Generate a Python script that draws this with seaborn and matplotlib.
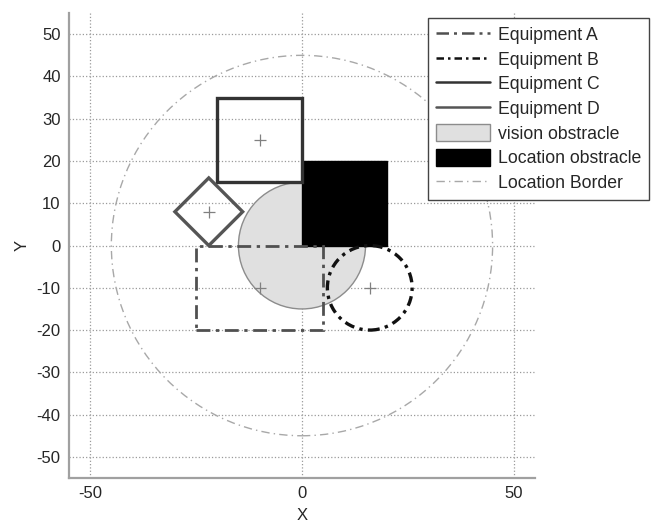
import numpy as np
import matplotlib
matplotlib.use("Agg")
import matplotlib.pyplot as plt
import matplotlib.patches as mpatches
from matplotlib.lines import Line2D
import pandas as pd
import seaborn as sns

# equipment: center, width/diameter, height, shape
equip_names = ['Equipment A', 'Equipment B', 'Equipment C', 'Equipment D']
equip_x = [-10, 16, -10, -22]
equip_y = [-10, -10, 25, 8]
equip_w = [30, 20, 20, 16]
equip_h = [20, 20, 20, 16]
equip_shape = ['rect', 'circle', 'rect', 'diamond']

# obstacles
vision_center = [0, 0]
vision_radius = 15
loc_obs_x = [0, 20]
loc_obs_y = [0, 20]
border_radius = 45

xticks = [-50, 0, 50]
yticks = [-50, -40, -30, -20, -10, 0, 10, 20, 30, 40, 50]

sns.set_style("white")
plt.rcParams['font.family'] = ['Liberation Sans', 'DejaVu Sans']
plt.rcParams['axes.unicode_minus'] = False

fig = plt.figure(figsize=(6.52, 5.23), dpi=100)
ax = fig.add_axes([0.1058, 0.086, 0.7147, 0.889])

styles = {
    'Equipment A': dict(color='#505050', lw=2.0, ls=(0, (5, 2, 1.2, 2))),
    'Equipment B': dict(color='#111111', lw=2.4, ls=(0, (3, 1.6, 1, 1.6))),
    'Equipment C': dict(color='#333333', lw=2.4, ls='-'),
    'Equipment D': dict(color='#555555', lw=2.4, ls='-'),
}

# location border
ax.add_patch(mpatches.Circle((0, 0), border_radius, fill=False, ec='#a8a8a8',
                             lw=1.0, ls=(0, (6, 3, 1, 3)), zorder=2))
# vision obstacle
ax.add_patch(mpatches.Circle(vision_center, vision_radius, fc='#e0e0e0',
                             ec='#8c8c8c', lw=1.0, zorder=3))
# location obstacle
ax.add_patch(mpatches.Rectangle((loc_obs_x[0], loc_obs_y[0]),
                                loc_obs_x[1] - loc_obs_x[0], loc_obs_y[1] - loc_obs_y[0],
                                fc='black', ec='black', zorder=4))

for name, cx, cy, w, h, shp in zip(equip_names, equip_x, equip_y, equip_w, equip_h, equip_shape):
    st = styles[name]
    if shp == 'rect':
        p = mpatches.Rectangle((cx - w / 2, cy - h / 2), w, h)
    elif shp == 'circle':
        p = mpatches.Circle((cx, cy), w / 2)
    else:
        p = mpatches.Polygon([(cx - w / 2, cy), (cx, cy + h / 2), (cx + w / 2, cy), (cx, cy - h / 2)],
                             closed=True)
    p.set_fill(False)
    p.set_edgecolor(st['color'])
    p.set_linewidth(st['lw'])
    p.set_linestyle(st['ls'])
    p.set_zorder(5)
    ax.add_patch(p)

centers = pd.DataFrame({'x': equip_x, 'y': equip_y})
sns.scatterplot(data=centers, x='x', y='y', marker='+', s=70, color='#808080',
                linewidth=0.9, ax=ax, zorder=6, legend=False)

ax.set_xlim(-55, 55)
ax.set_ylim(-55, 55)
ax.set_xticks(xticks)
ax.set_yticks(yticks)
ax.grid(True, color='#9a9a9a', ls=':', lw=0.9)
ax.set_axisbelow(True)
ax.set_xlabel('X', fontsize=12, labelpad=5)
ax.set_ylabel('Y', fontsize=12, labelpad=5)
ax.tick_params(axis='both', labelsize=12, direction='in', length=4,
               color='#888888', pad=6)
for side in ['top', 'right']:
    ax.spines[side].set_visible(False)
for side in ['left', 'bottom']:
    ax.spines[side].set_color('#a0a0a0')
    ax.spines[side].set_linewidth(1.6)

handles = []
for n in equip_names:
    st = styles[n]
    handles.append(Line2D([], [], color=st['color'], lw=1.8, linestyle=st['ls']))
handles.append(mpatches.Patch(fc='#e0e0e0', ec='#8c8c8c', lw=1.0))
handles.append(mpatches.Patch(fc='black', ec='black'))
handles.append(Line2D([], [], color='#a8a8a8', lw=1.0, ls=(0, (6, 3, 1, 3))))
labels = equip_names + ['vision obstracle', 'Location obstracle', 'Location Border']
leg = fig.legend(handles, labels, loc='upper right', bbox_to_anchor=(0.995, 0.966),
                 fontsize=12.7, frameon=True, fancybox=False, framealpha=1,
                 edgecolor='#444444', handlelength=3.1, handleheight=1.1,
                 labelspacing=0.35, handletextpad=0.4, borderpad=0.45, borderaxespad=0)
leg.get_frame().set_linewidth(1.0)

fig.savefig('out.png', dpi=100)
